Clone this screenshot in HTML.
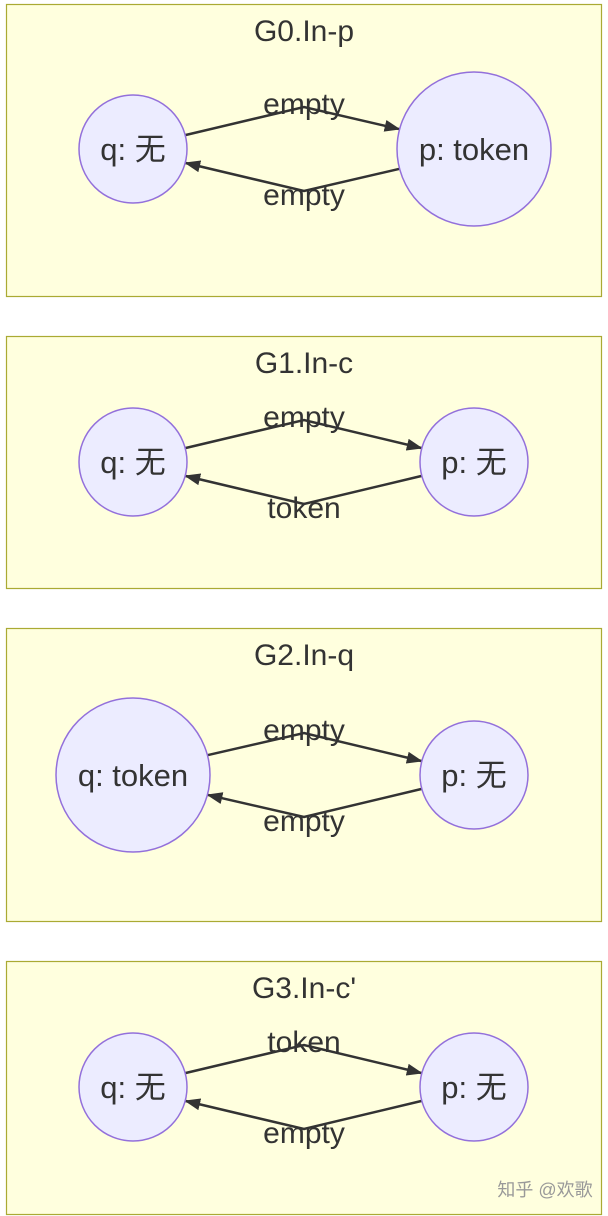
<!DOCTYPE html>
<html><head><meta charset="utf-8"><style>
body{margin:0;background:#fff;}
svg{display:block;font-family:"Liberation Sans","Noto Sans CJK SC",sans-serif;}
</style></head><body>
<svg width="608" height="1216" viewBox="0 0 608 1216">
<defs><marker id="ah" markerWidth="16" markerHeight="12" refX="15" refY="6" orient="auto" markerUnits="userSpaceOnUse"><path d="M0,0L16,6L0,12z" fill="#333"/></marker></defs>
<g id="root"></g>
<text x="545" y="1196" font-size="18" fill="#999" text-anchor="middle">知乎 @欢歌</text>
</svg>
<script>
const titles=["G0.In-p","G1.In-c","G2.In-q","G3.In-c'"];
const boxTops=[4,336,628,961];
const boxHeights=[292,252,293,253];
const qLabels=["q: 无","q: 无","q: token","q: 无"];
const pLabels=["p: token","p: 无","p: 无","p: 无"];
const qRadius=[54,54,77,54];
const pRadius=[77,54,54,54];
const topLabels=["empty","empty","empty","token"];
const botLabels=["empty","token","empty","empty"];
const NS="http://www.w3.org/2000/svg";
const root=document.getElementById('root');
function mk(tag,attrs,parent){const e=document.createElementNS(NS,tag);for(const k in attrs)e.setAttribute(k,attrs[k]);parent.appendChild(e);return e;}
titles.forEach((t,i)=>{
  const g=mk('g',{},root);
  
  
  const y0=boxTops[i],h=boxHeights[i];
  const r=mk('rect',{x:6.5,y:y0+0.5,width:595,height:h,fill:'#ffffde',stroke:'#aaaa33','stroke-width':1.2},g);
  
  
  const tt=mk('text',{x:304,y:y0+37,'font-size':30,fill:'#333','text-anchor':'middle'},g);tt.textContent=t;
  
  
  const cy=y0+(i===0?145:i===2?147:126);
  const qx=133,px=474,qr=qRadius[i],pr=pRadius[i];
  const a1x=qx+Math.cos(-0.26)*qr, a1y=cy+Math.sin(-0.26)*qr;
  const b1x=px-Math.cos(-0.26)*pr, b1y=cy+Math.sin(-0.26)*pr;
  const e1=mk('path',{d:`M${a1x},${a1y}L304,${cy-42}L${b1x},${b1y}`,fill:'none',stroke:'#333','stroke-width':2.5,'marker-end':'url(#ah)'},g);
  
  
  const a2x=px-Math.cos(0.26)*pr, a2y=cy+Math.sin(0.26)*pr;
  const b2x=qx+Math.cos(0.26)*qr, b2y=cy+Math.sin(0.26)*qr;
  const e2=mk('path',{d:`M${a2x},${a2y}L304,${cy+42}L${b2x},${b2y}`,fill:'none',stroke:'#333','stroke-width':2.5,'marker-end':'url(#ah)'},g);
  
  
  const l1=mk('text',{x:304,y:cy-35,'font-size':30,fill:'#333','text-anchor':'middle'},g);l1.textContent=topLabels[i];
  
  
  const l2=mk('text',{x:304,y:cy+56,'font-size':30,fill:'#333','text-anchor':'middle'},g);l2.textContent=botLabels[i];
  
  
  [[qx,qr,qLabels[i],'node-q'],[px,pr,pLabels[i],'node-p']].forEach(([x,rr,lab,nm])=>{
    const c=mk('circle',{cx:x,cy:cy,r:rr,fill:'#ececff',stroke:'#9370db','stroke-width':1.5},g);
    
    
    const tx=mk('text',{x:x,y:cy+11,'font-size':31,fill:'#333','text-anchor':'middle'},g);tx.textContent=lab;
    
    
  });
});
</script>
</body></html>
